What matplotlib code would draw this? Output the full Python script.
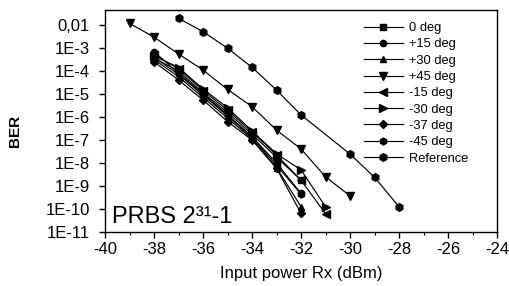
import matplotlib
matplotlib.use("Agg")
import matplotlib.pyplot as plt
import numpy as np
from matplotlib.ticker import FixedLocator, LogLocator, NullFormatter, MultipleLocator

plt.rcParams['font.family'] = ['Liberation Sans', 'DejaVu Sans']

# data: input power (dBm) and log10(BER)
x_cluster = [-38, -37, -36, -35, -34, -33, -32]
x_long = [-38, -37, -36, -35, -34, -33, -32, -31]

lbl = ["0 deg", "+15 deg", "+30 deg", "+45 deg", "-15 deg", "-30 deg", "-37 deg", "-45 deg", "Reference"]

deg0_x = x_cluster
deg0_y = [-3.45, -4.00, -4.95, -5.80, -6.75, -7.75, -8.74]
p15_x = x_cluster
p15_y = [-3.16, -4.10, -5.00, -5.90, -6.85, -8.00, -9.32]
p30_x = x_cluster
p30_y = [-3.50, -4.25, -5.15, -6.05, -6.95, -8.20, -9.90]
p45_x = [-39, -38, -37, -36, -35, -34, -33, -32, -31, -30]
p45_y = [-1.93, -2.53, -3.26, -3.96, -4.80, -5.55, -6.57, -7.39, -8.60, -9.43]
m15_x = x_long
m15_y = [-3.30, -3.90, -4.85, -5.70, -6.65, -7.65, -8.75, -10.20]
m30_x = x_long
m30_y = [-3.35, -3.85, -4.78, -5.60, -6.60, -7.60, -8.30, -9.90]
m37_x = x_cluster
m37_y = [-3.60, -4.39, -5.26, -6.20, -7.00, -8.23, -10.19]
m45_x = x_cluster
m45_y = [-3.40, -4.15, -5.05, -5.95, -6.90, -8.10, -9.35]
ref_x = [-37, -36, -35, -34, -33, -32, -30, -29, -28]
ref_y = [-1.71, -2.29, -3.01, -3.84, -4.83, -5.91, -7.61, -8.62, -9.90]

yticks = [1e-11, 1e-10, 1e-9, 1e-8, 1e-7, 1e-6, 1e-5, 1e-4, 1e-3, 1e-2]
ytick_labels = ["1E-11", "1E-10", "1E-9", "1E-8", "1E-7", "1E-6", "1E-5", "1E-4", "1E-3", "0,01"]
xticks = [-40, -38, -36, -34, -32, -30, -28, -26, -24]

series = [
    (deg0_x, deg0_y, 's', 4.2),
    (p15_x, p15_y, 'o', 4.5),
    (p30_x, p30_y, '^', 5),
    (p45_x, p45_y, 'v', 5.5),
    (m15_x, m15_y, '<', 5.5),
    (m30_x, m30_y, '>', 5.5),
    (m37_x, m37_y, 'D', 4),
    (m45_x, m45_y, 'h', 5),
    (ref_x, ref_y, 'h', 5.5),
]

fig = plt.figure(figsize=(5.10, 2.86), dpi=100)
ax = fig.add_axes([105/510, 1 - 232/286, 392/510, 222/286])

for (xs, ys, m, ms), name in zip(series, lbl):
    ax.plot(xs, [10.0**v for v in ys], color='black', marker=m, markersize=ms,
            linewidth=0.85, label=name)

ax.set_yscale('log')
ax.set_xlim(-40, -24)
ax.set_ylim(1e-11, 10**(-1.35))
ax.yaxis.set_major_locator(FixedLocator(yticks))
ax.set_yticklabels(ytick_labels)
ax.yaxis.set_minor_locator(LogLocator(base=10, subs=np.arange(2, 10)))
ax.yaxis.set_minor_formatter(NullFormatter())
ax.xaxis.set_major_locator(FixedLocator(xticks))
ax.set_xticklabels([str(v) for v in xticks])
ax.xaxis.set_minor_locator(MultipleLocator(1))

ax.tick_params(axis='both', which='major', direction='out', length=4, width=1,
               labelsize=12)
ax.tick_params(axis='y', which='major', pad=7)
ax.tick_params(axis='x', which='major', pad=3)
ax.tick_params(axis='both', which='minor', direction='out', length=2.2, width=0.8)
ax.tick_params(top=False, right=False, which='both')
for s in ax.spines.values():
    s.set_linewidth(1)

ax.set_ylabel("BER", fontsize=11, fontweight='bold')
ax.yaxis.set_label_coords(-0.212, 0.453)
ax.set_xlabel("Input power Rx (dBm)", fontsize=12)
ax.xaxis.set_label_coords(0.5, -0.153)

ax.text(0.018, 0.04, "PRBS 2\u00b3\u00b9-1", transform=ax.transAxes, fontsize=17,
        ha='left', va='baseline')

leg = ax.legend(loc='upper left', bbox_to_anchor=(0.654, 0.957), frameon=False,
                fontsize=9.3, handlelength=3.0, labelspacing=0.33, handletextpad=0.48,
                borderpad=0.2, borderaxespad=0)

fig.savefig("out.png", dpi=100)
